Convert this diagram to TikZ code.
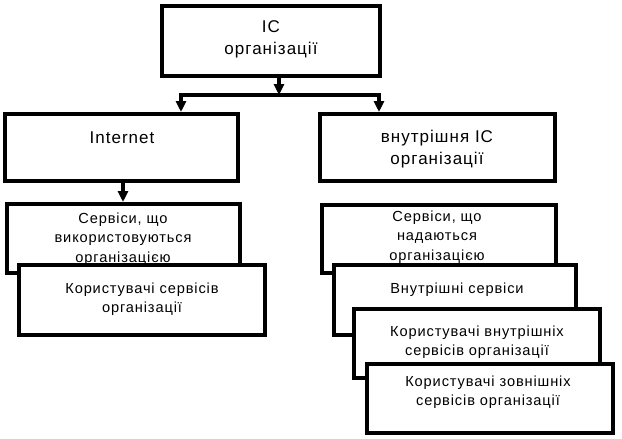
\documentclass[tikz,border=0pt]{standalone}
\usepackage{fontspec}
\setmainfont{Liberation Sans}[LetterSpace=6]
\usetikzlibrary{arrows.meta}
\begin{document}
\begin{tikzpicture}[x=1pt,y=-1pt,
  box/.style={draw=black,fill=white,line width=3.6pt,line join=miter},
  head/.style={align=center,inner sep=0pt,font=\fontsize{17}{22}\selectfont},
  body/.style={align=center,inner sep=0pt,font=\fontsize{14.6}{19.5}\selectfont},
  conn/.style={line width=3.4pt},
  arr/.style={conn,-{Triangle[width=10pt,length=11pt]}}]
\useasboundingbox (0,0) rectangle (622,439);
% heading boxes
\path[box] (162,6) rectangle (380,76);
\node[head] (top) at (271,39) {ІС\\організації};
\path[box] (5,114) rectangle (238,181);
\node[head] (inet) at (122,138) {Internet};
\path[box] (320,114) rectangle (555,181);
\node[head] (intern) at (437,149) {внутрішня ІС\\організації};
\coordinate (topS) at (279,78);
\coordinate (busM) at (279,95);
\coordinate (busL) at (181,95);
\coordinate (busR) at (379,95);
\coordinate (inetN) at (181,112);
\coordinate (internN) at (379,112);
\draw[conn] ([xshift=-1.7pt]busL) -- ([xshift=1.7pt]busR);
\draw[arr] (topS) -- (busM);
\draw[arr] (busL) -- (inetN);
\draw[arr] (busR) -- (internN);
\coordinate (inetS) at (123,183);
\coordinate (l1N) at (123,202);
\draw[arr] (inetS) -- (l1N);
% left column
\path[box] (7,204) rectangle (240,273);
\node[body] (l1) at (123,239) {Сервіси, що\\використовуються\\організацією};
\path[box] (19,265) rectangle (265,335);
\node[body] (l2) at (142,299) {Користувачі сервісів\\організації};
% right column
\path[box] (322,205) rectangle (556,273);
\node[body] (r1) at (437,237) {Сервіси, що\\надаються\\організацією};
\path[box] (334,265) rectangle (576,335);
\node[body] (r2) at (457,290) {Внутрішні сервіси};
\path[box] (354,309) rectangle (600,378);
\node[body] (r3) at (477,342) {Користувачі внутрішніх\\сервісів організації};
\path[box] (367,364) rectangle (613,433);
\node[body] (r4) at (488,392) {Користувачі зовнішніх\\сервісів організації};
\end{tikzpicture}
\end{document}
